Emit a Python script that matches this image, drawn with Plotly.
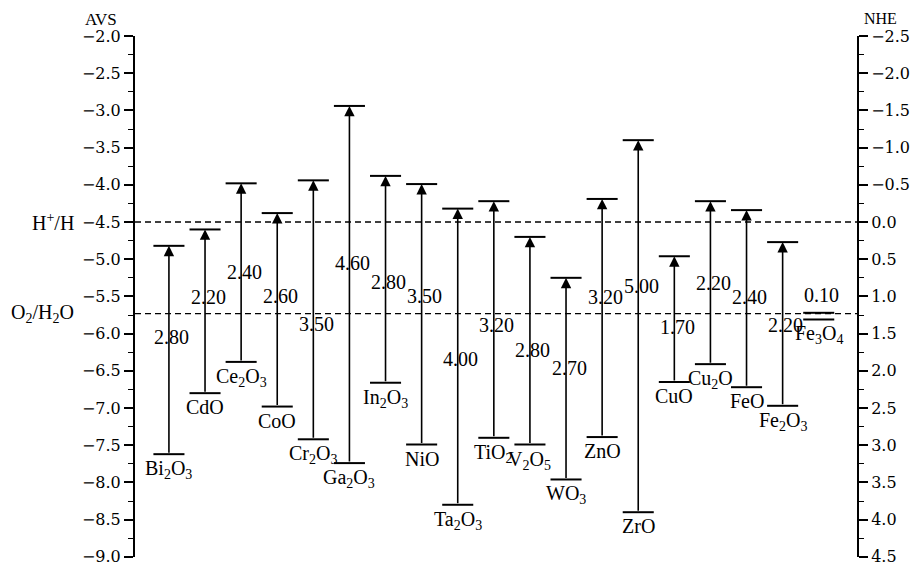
import plotly.graph_objects as go

oxides = ["Bi<sub>2</sub>O<sub>3</sub>", "CdO", "Ce<sub>2</sub>O<sub>3</sub>", "CoO",
          "Cr<sub>2</sub>O<sub>3</sub>", "Ga<sub>2</sub>O<sub>3</sub>", "In<sub>2</sub>O<sub>3</sub>",
          "NiO", "Ta<sub>2</sub>O<sub>3</sub>", "TiO<sub>2</sub>", "V<sub>2</sub>O<sub>5</sub>",
          "WO<sub>3</sub>", "ZnO", "ZrO", "CuO", "Cu<sub>2</sub>O", "FeO",
          "Fe<sub>2</sub>O<sub>3</sub>", "Fe<sub>3</sub>O<sub>4</sub>"]
cb_avs = [-4.82, -4.60, -3.98, -4.38, -3.94, -2.94, -3.88, -3.99, -4.32, -4.22,
          -4.70, -5.25, -4.19, -3.40, -4.96, -4.22, -4.34, -4.77, -5.72]
vb_avs = [-7.62, -6.80, -6.38, -6.98, -7.42, -7.74, -6.66, -7.49, -8.30, -7.40,
          -7.49, -7.96, -7.39, -8.40, -6.65, -6.41, -6.72, -6.97, -5.81]
gap_text = ["2.80", "2.20", "2.40", "2.60", "3.50", "4.60", "2.80", "3.50", "4.00", "3.20",
            "2.80", "2.70", "3.20", "5.00", "1.70", "2.20", "2.40", "2.20", "0.10"]
gap_label_y = [-6.05, -5.51, -5.17, -5.49, -5.87, -5.05, -5.31, -5.49, -6.34, -5.88,
               -6.22, -6.46, -5.51, -5.36, -5.91, -5.32, -5.51, -5.88, -5.48]
ref_levels = [-4.5, -5.73]
ref_names = ["H<sup>+</sup>/H", "O<sub>2</sub>/H<sub>2</sub>O"]
nhe_offset = -4.5  # NHE = -AVS + offset

FONT = "Liberation Serif"
TICKFONT = "DejaVu Serif"
xs = list(range(len(oxides)))
half = 0.43

fig = go.Figure()

# caps
cx, cy = [], []
for x, c, v in zip(xs, cb_avs, vb_avs):
    cx += [x - half, x + half, None, x - half, x + half, None]
    cy += [c, c, None, v, v, None]
fig.add_trace(go.Scatter(x=cx, y=cy, mode="lines", line=dict(color="black", width=2),
                         hoverinfo="skip", showlegend=False))
# invisible trace for right axis
fig.add_trace(go.Scatter(x=[xs[0]], y=[-(cb_avs[0]) + nhe_offset], yaxis="y2", mode="markers",
                         marker=dict(opacity=0), hoverinfo="skip", showlegend=False))

ann = []
for x, c, v, g, ly, name in zip(xs, cb_avs, vb_avs, gap_text, gap_label_y, oxides):
    if c - v > 0.3:
        ann.append(dict(x=x, y=c, ax=x, ay=v, xref="x", yref="y", axref="x", ayref="y",
                        text="", showarrow=True, arrowhead=2, arrowsize=1.3, arrowwidth=1.6,
                        arrowcolor="black", standoff=0))
    ann.append(dict(x=x, y=ly, xref="x", yref="y", text=g, showarrow=False, xshift=3,
                    font=dict(family=FONT, size=20, color="black")))
    ann.append(dict(x=x, y=v, xref="x", yref="y", text=name, showarrow=False,
                    yanchor="top", yshift=-1, font=dict(family=FONT, size=20, color="black")))

for lvl, nm in zip(ref_levels, ref_names):
    fig.add_shape(type="line", xref="paper", yref="y", x0=0, x1=1, y0=lvl, y1=lvl,
                  line=dict(color="black", width=1.3, dash="6px,4px"))
    ann.append(dict(x=0, y=lvl, xref="paper", yref="y", text=nm, showarrow=False,
                    xanchor="right", xshift=-59, font=dict(family=FONT, size=20, color="black")))

ann.append(dict(x=0, y=1, xref="paper", yref="paper", text="AVS", showarrow=False,
                xanchor="center", yanchor="middle", xshift=-34, yshift=17,
                font=dict(family=FONT, size=17, color="black")))
ann.append(dict(x=1, y=1, xref="paper", yref="paper", text="NHE", showarrow=False,
                xanchor="center", yanchor="middle", xshift=23, yshift=18,
                font=dict(family=FONT, size=16, color="black")))

axis_common = dict(showline=True, linecolor="black", linewidth=2, ticks="outside",
                   tickcolor="black", tickwidth=1.5, showgrid=False, zeroline=False,
                   dtick=0.5, tickformat=".1f", ticklabeloverflow="allow", automargin=False,
                   tickfont=dict(family=TICKFONT, size=16, color="black"))

# page body has an 8px default margin: figure is placed at (8, 8)
fig.update_layout(
    width=912, height=558,
    margin=dict(l=127, r=63, t=28, b=9),
    paper_bgcolor="white", plot_bgcolor="white",
    xaxis=dict(visible=False, range=[-0.94, 19.06], automargin=False),
    yaxis=dict(range=[-9.002, -2], ticklen=9,
               minor=dict(ticks="outside", ticklen=5, dtick=0.25, tickcolor="black", tickwidth=1.2),
               **axis_common),
    yaxis2=dict(range=[4.502, -2.5], overlaying="y", side="right", ticklen=9,
                minor=dict(ticks="outside", ticklen=5, dtick=0.25, tickcolor="black", tickwidth=1.2),
                **axis_common),
    annotations=ann,
    showlegend=False,
)

fig.write_html("out.html")
